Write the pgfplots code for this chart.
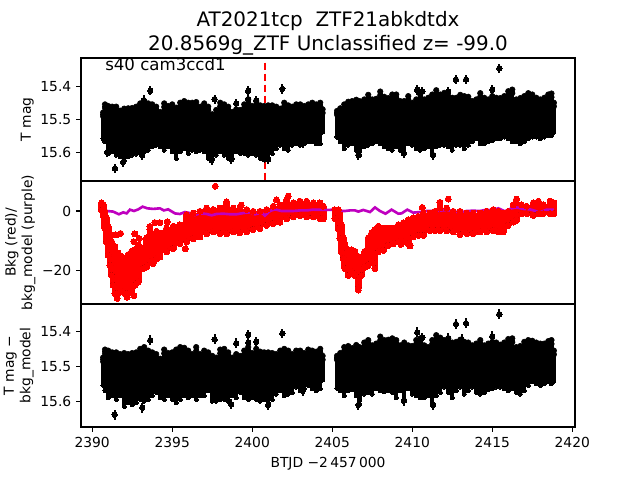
\documentclass[border=0pt]{standalone}
\usepackage{pgfplots}
\usepackage{pgfplotstable}
\pgfplotsset{compat=1.18}
\usepackage{fontspec}
\setmainfont{DejaVu Sans}
\definecolor{mpur}{HTML}{BF00BF}

\pgfplotstableread{
d t b
2390.68 15.480 15.565
2390.80 15.455 15.575
2391.00 15.460 15.610
2391.25 15.462 15.605
2391.50 15.462 15.615
2391.75 15.474 15.620
2392.00 15.468 15.631
2392.25 15.467 15.620
2392.50 15.466 15.615
2392.75 15.462 15.612
2393.00 15.452 15.610
2393.25 15.445 15.605
2393.50 15.452 15.600
2393.75 15.455 15.590
2394.00 15.462 15.585
2394.25 15.478 15.590
2394.50 15.452 15.600
2394.75 15.460 15.590
2395.00 15.455 15.605
2395.25 15.465 15.625
2395.50 15.450 15.605
2395.75 15.445 15.595
2396.00 15.450 15.610
2396.25 15.450 15.600
2396.50 15.448 15.605
2396.75 15.462 15.600
2397.00 15.452 15.605
2397.25 15.462 15.625
2397.50 15.485 15.625
2397.75 15.472 15.615
2398.00 15.450 15.605
2398.25 15.455 15.615
2398.50 15.462 15.625
2398.75 15.478 15.625
2399.00 15.470 15.605
2399.25 15.472 15.610
2399.50 15.455 15.610
2399.75 15.440 15.615
2400.00 15.460 15.610
2400.25 15.445 15.615
2400.50 15.458 15.625
2400.75 15.460 15.630
2401.00 15.458 15.630
2401.25 15.458 15.610
2401.50 15.462 15.595
2401.75 15.468 15.585
2402.00 15.450 15.595
2402.25 15.458 15.600
2402.50 15.462 15.585
2402.75 15.455 15.580
2403.00 15.455 15.585
2403.25 15.460 15.580
2403.50 15.455 15.575
2403.75 15.450 15.575
2404.00 15.455 15.580
2404.25 15.450 15.580
2404.40 15.470 15.545
2405.30 15.475 15.560
2405.50 15.467 15.575
2405.75 15.455 15.595
2406.00 15.447 15.585
2406.25 15.445 15.580
2406.50 15.441 15.600
2406.70 15.445 15.614
2407.00 15.440 15.590
2407.25 15.426 15.585
2407.50 15.440 15.580
2407.75 15.438 15.575
2408.00 15.416 15.580
2408.25 15.432 15.590
2408.50 15.436 15.595
2408.75 15.425 15.600
2409.00 15.425 15.590
2409.25 15.445 15.600
2409.50 15.445 15.612
2409.75 15.430 15.580
2410.00 15.450 15.585
2410.25 15.440 15.595
2410.50 15.425 15.600
2410.75 15.440 15.595
2411.00 15.435 15.590
2411.25 15.425 15.610
2411.50 15.412 15.590
2411.75 15.425 15.585
2412.00 15.420 15.585
2412.25 15.430 15.590
2412.50 15.435 15.600
2412.75 15.435 15.585
2413.00 15.426 15.585
2413.25 15.430 15.595
2413.50 15.432 15.585
2413.75 15.445 15.575
2414.00 15.440 15.565
2414.25 15.421 15.580
2414.50 15.435 15.580
2414.75 15.440 15.575
2415.00 15.430 15.570
2415.25 15.435 15.565
2415.50 15.436 15.565
2415.75 15.430 15.560
2416.00 15.415 15.565
2416.25 15.410 15.575
2416.50 15.440 15.575
2416.75 15.436 15.580
2417.00 15.430 15.575
2417.25 15.421 15.565
2417.50 15.425 15.560
2417.75 15.435 15.560
2418.00 15.440 15.565
2418.25 15.435 15.560
2418.50 15.425 15.555
2418.70 15.422 15.555
2418.85 15.450 15.545
}\bandA

\pgfplotstableread{
d y
2393.63 15.414
2391.42 15.650
2393.23 15.442
2397.65 15.439
2399.00 15.452
2399.75 15.414
2399.75 15.439
2400.25 15.444
2401.88 15.408
2398.69 15.622
2401.00 15.622
2403.15 15.574
2397.46 15.625
2393.13 15.610
2391.94 15.630
2390.94 15.600
2415.44 15.345
2412.73 15.380
2413.36 15.380
2415.00 15.411
2410.31 15.411
2410.63 15.416
2412.25 15.416
2411.31 15.609
2406.63 15.609
2409.48 15.604
}\outA

\pgfplotstableread{
d t b
2390.68 15.475 15.560
2390.80 15.452 15.575
2391.00 15.455 15.595
2391.25 15.460 15.590
2391.50 15.460 15.600
2391.75 15.465 15.590
2392.00 15.462 15.620
2392.25 15.465 15.610
2392.50 15.462 15.615
2392.75 15.460 15.610
2393.00 15.450 15.600
2393.25 15.445 15.605
2393.50 15.455 15.600
2393.75 15.460 15.590
2394.00 15.465 15.580
2394.25 15.478 15.595
2394.50 15.452 15.600
2394.75 15.462 15.590
2395.00 15.460 15.600
2395.25 15.452 15.610
2395.50 15.445 15.600
2395.75 15.447 15.590
2396.00 15.455 15.595
2396.25 15.465 15.590
2396.50 15.445 15.600
2396.75 15.465 15.590
2397.00 15.455 15.590
2397.25 15.460 15.575
2397.50 15.470 15.605
2397.75 15.475 15.605
2398.00 15.452 15.600
2398.25 15.450 15.600
2398.50 15.460 15.605
2398.75 15.475 15.590
2399.00 15.465 15.595
2399.25 15.470 15.580
2399.50 15.455 15.595
2399.75 15.445 15.600
2400.00 15.462 15.595
2400.25 15.450 15.600
2400.50 15.458 15.605
2400.75 15.460 15.600
2401.00 15.460 15.610
2401.25 15.462 15.600
2401.50 15.465 15.585
2401.75 15.455 15.575
2402.00 15.450 15.590
2402.25 15.455 15.585
2402.50 15.465 15.580
2402.75 15.455 15.565
2403.00 15.455 15.575
2403.25 15.462 15.570
2403.50 15.452 15.560
2403.75 15.455 15.570
2404.00 15.458 15.575
2404.25 15.450 15.570
2404.40 15.470 15.545
2405.30 15.470 15.568
2405.50 15.462 15.575
2405.75 15.445 15.590
2406.00 15.442 15.575
2406.25 15.448 15.572
2406.50 15.439 15.590
2406.70 15.445 15.614
2407.00 15.432 15.585
2407.25 15.425 15.580
2407.50 15.440 15.585
2407.75 15.435 15.570
2408.00 15.415 15.575
2408.25 15.425 15.578
2408.50 15.424 15.575
2408.75 15.420 15.580
2409.00 15.425 15.595
2409.25 15.440 15.575
2409.50 15.432 15.600
2409.75 15.440 15.570
2410.00 15.442 15.585
2410.25 15.425 15.590
2410.50 15.420 15.595
2410.75 15.440 15.595
2411.00 15.445 15.590
2411.25 15.425 15.612
2411.50 15.411 15.590
2411.75 15.418 15.580
2412.00 15.425 15.565
2412.25 15.420 15.580
2412.50 15.432 15.595
2412.75 15.430 15.575
2413.00 15.424 15.565
2413.25 15.430 15.585
2413.50 15.432 15.575
2413.75 15.440 15.565
2414.00 15.435 15.580
2414.25 15.425 15.585
2414.50 15.440 15.580
2414.75 15.435 15.572
2415.00 15.430 15.570
2415.25 15.432 15.565
2415.50 15.438 15.565
2415.75 15.432 15.570
2416.00 15.422 15.575
2416.25 15.420 15.570
2416.50 15.445 15.580
2416.75 15.442 15.585
2417.00 15.430 15.575
2417.25 15.425 15.560
2417.50 15.427 15.550
2417.75 15.432 15.555
2418.00 15.435 15.560
2418.25 15.435 15.555
2418.50 15.428 15.550
2418.70 15.425 15.555
2418.85 15.455 15.548
}\bandC

\pgfplotstableread{
d y
2393.63 15.425
2391.40 15.638
2393.13 15.618
2397.65 15.423
2399.00 15.434
2399.75 15.410
2399.75 15.432
2400.25 15.430
2401.88 15.406
2398.69 15.608
2401.00 15.610
2403.15 15.570
2415.44 15.351
2412.73 15.379
2413.36 15.377
2415.00 15.414
2410.31 15.403
2410.63 15.418
2412.25 15.420
2413.09 15.423
2411.31 15.610
2406.63 15.610
2409.48 15.598
}\outC

\pgfplotstableread{
d t b
2390.59 2.7 0.2
2390.69 2.1 -1.5
2390.79 -0.1 -5.9
2390.90 -2.3 -10.4
2391.00 -5.2 -14.9
2391.11 -8.0 -18.2
2391.21 -10.2 -21.6
2391.31 -12.4 -24.9
2391.42 -11.9 -27.7
2391.63 -14.1 -27.7
2391.84 -15.2 -27.1
2392.04 -17.4 -27.7
2392.25 -14.6 -27.7
2392.46 -13.5 -27.1
2392.67 -13.0 -24.9
2392.88 -11.3 -23.8
2393.19 -12.4 -19.3
2393.40 -9.0 -18.8
2393.61 -6.2 -17.1
2393.81 -7.9 -17.6
2394.02 -6.8 -16.0
2394.23 -7.4 -15.4
2394.65 -5.7 -13.7
2395.06 -5.1 -12.6
2395.48 -4.6 -10.9
2395.90 -1.2 -10.4
2396.31 -0.7 -9.3
2396.73 -0.1 -8.7
2397.15 1.0 -7.6
2397.56 0.5 -7.0
2397.98 1.0 -7.6
2398.40 2.4 -7.6
2398.81 1.0 -7.0
2399.23 1.0 -7.3
2399.65 0.5 -7.0
2400.06 -0.1 -6.2
2400.48 -0.1 -5.9
2400.90 0.5 -4.8
2401.31 1.6 -4.2
2401.73 2.1 -3.7
2402.15 3.8 -2.6
2402.56 2.7 -2.0
2402.98 3.3 -1.5
2403.40 3.3 -2.0
2403.81 2.7 -2.0
2404.23 2.7 -2.6
2404.45 1.6 -2.6
2405.17 0.4 -2.6
2405.38 0.4 -5.9
2405.48 -1.2 -9.3
2405.58 -4.6 -13.7
2405.69 -9.0 -16.0
2405.79 -11.3 -19.3
2406.00 -13.0 -21.6
2406.21 -13.0 -20.4
2406.42 -13.5 -21.6
2406.63 -15.2 -25.8
2406.83 -15.7 -21.6
2407.04 -13.5 -18.8
2407.25 -9.0 -18.2
2407.46 -7.4 -17.1
2407.67 -6.2 -19.3
2407.88 -5.1 -13.7
2408.19 -5.7 -13.2
2408.50 -5.7 -11.5
2408.81 -5.7 -11.0
2409.13 -4.6 -10.4
2409.44 -4.0 -10.4
2409.75 -2.9 -11.0
2410.06 -2.3 -8.7
2410.38 -1.8 -8.2
2410.69 -0.7 -8.2
2411.11 -0.7 -6.6
2411.42 -0.1 -6.6
2411.73 1.0 -6.6
2412.15 1.0 -6.6
2412.56 -0.1 -7.0
2412.98 -0.1 -7.9
2413.40 -0.7 -7.6
2413.81 -0.7 -7.6
2414.23 -0.7 -7.0
2414.65 -0.1 -7.0
2415.06 0.5 -6.6
2415.38 -0.1 -7.0
2415.69 -0.7 -7.0
2416.00 -0.1 -4.8
2416.31 2.1 -3.7
2416.52 2.7 -3.1
2416.83 2.1 -0.9
2417.15 1.6 -0.9
2417.56 2.7 -1.5
2417.88 3.3 -0.9
2418.19 2.1 -0.9
2418.61 3.3 -0.9
2418.85 2.7 -0.9
}\bandR

\pgfplotstableread{
d y
2397.69 8.3
2394.69 -3.6
2394.23 -3.9
2393.92 -3.9
2393.61 -5.2
2395.81 -12.7
2392.61 -28.3
2391.56 -29.3
2392.19 -28.9
2391.48 -8.0
2391.77 -7.5
2392.67 -7.7
2392.94 -9.2
2392.61 -10.3
2399.31 2.0
2398.40 3.1
2401.52 3.7
2402.25 5.0
2412.25 4.0
2411.73 2.9
2410.63 1.2
2409.86 -11.7
2409.29 -11.2
2416.52 4.0
2406.63 -26.5
}\outR

\pgfplotstableread{
d y
2390.59 0
2390.90 0
2391.31 -0.2
2391.67 -1.1
2391.94 -0.45
2392.15 -0.8
2392.36 0.45
2392.61 0
2392.88 0.55
2393.15 1.45
2393.44 0.9
2393.81 0.7
2394.23 0.9
2394.48 0.2
2394.75 0.55
2395.17 -0.8
2395.48 -1.0
2395.79 -0.35
2396.11 -0.7
2396.42 -1.35
2396.73 -0.8
2397.15 -1.0
2397.46 -1.45
2397.77 -1.0
2398.19 -0.9
2398.61 -1.1
2399.02 -1.1
2399.44 -0.7
2399.86 -0.45
2400.17 -1.1
2400.59 -0.55
2400.79 -1.55
2401.11 0
2401.42 0.55
2401.83 0
2402.56 0
2402.98 0.2
2403.40 0.2
2403.81 0.45
2404.65 0.35
2405.17 0.45
2405.48 0
2405.79 0
2406.11 0.2
2406.42 0.2
2406.63 -0.2
2406.94 0.35
2407.36 -0.35
2407.67 1.2
2407.98 0
2408.33 -0.9
2408.71 0.45
2409.13 -0.9
2409.33 -0.8
2409.69 0.45
2410.06 -0.55
2410.48 -0.35
2410.90 0
2411.52 0
2412.15 0.35
2412.56 0
2412.98 -0.55
2413.40 0
2413.81 0.1
2414.23 0
2414.65 0.45
2414.96 0.2
2415.38 0.9
2415.79 -0.1
2416.21 0.9
2416.52 1.2
2416.94 0.7
2417.36 0.55
2417.98 -0.45
2418.40 0.45
2418.85 0.45
}\purp

\pgfplotsset{
  panel/.style={
    scale only axis, width=4.94in, height=1.23in, anchor=south west,
    xmin=2389.3, xmax=2420.17,
    xtick pos=bottom, ytick pos=left,
    tick align=outside, major tick length=0.0486in,
    every tick/.style={black, line width=0.8pt},
    axis line style={line width=0.8pt},
    axis on top,
    /pgf/number format/assume math mode=true,
    tick label style={font=\fontsize{10}{12}\selectfont},
    label style={font=\fontsize{10}{12}\selectfont},
    clip=true,
  },
  ylab/.style={ylabel style={at={(axis description cs:#1,0.5)},anchor=center,rotate=0,align=center}},
  band/.style n args={2}{only marks, mark=none, draw=none, forget plot,
    error bars/.cd, y dir=plus, y explicit, error mark=none,
    error bar style={color=#1, line width=#2}},
  blob/.style={only marks, mark=*, mark size=0.021in, color=black, forget plot,
    mark options={solid,fill=black,draw=black,line width=0pt}},
  outl/.style={only marks, mark=*, mark size=0.027in, color=black, forget plot, mark options={solid,fill=black,draw=black,line width=0pt},
    error bars/.cd, y dir=both, y fixed=0.014, error mark=none,
    error bar style={color=black, line width=0.02in}},
}

\begin{document}
\begin{tikzpicture}
\path[use as bounding box] (0,0) rectangle (6.4in,4.8in);

\node[align=center, font=\fontsize{14.4}{17.3}\selectfont, anchor=center] at (3.28in,4.465in)
  {AT2021tcp\ \ ZTF21abkdtdx\\20.8569g\_ZTF Unclassified z= -99.0};

% top panel
\begin{axis}[panel, at={(0.81in,2.99in)},
  y dir=reverse, ymin=15.314, ymax=15.688,
  xtick=\empty, ytick={15.4,15.5,15.6},
  yticklabels={15.4,15.5,15.6},
  ylabel={T mag}, ylab=-0.109]
\addplot[color=red, dashed, dash pattern=on 0.077in off 0.033in, line width=1.5pt, forget plot] coordinates {(2400.79,15.328) (2400.79,15.688)};
\addplot[band={black}{0.014in}] table[x=d, y=t, y error plus expr=\thisrow{b}-\thisrow{t}] {\bandA};
\addplot[band={black}{0.043in}] table[x=d, y expr=\thisrow{t}+0.011, y error plus expr=\thisrow{b}-\thisrow{t}-0.022] {\bandA};
\addplot[blob] table[x=d, y expr=\thisrow{t}+0.006] {\bandA};
\addplot[blob] table[x=d, y expr=\thisrow{b}-0.006] {\bandA};
\addplot[outl] table[x=d, y=y] {\outA};
\node[anchor=base west, inner sep=0pt, font=\fontsize{12}{14}\selectfont] at (rel axis cs:0.0486,0.895) {s40 cam3ccd1};
\end{axis}

% middle panel
\begin{axis}[panel, at={(0.81in,1.76in)},
  ymin=-31.15, ymax=10.05,
  xtick=\empty, ytick={-20,0},
  yticklabels={−20,0},
  ylabel={Bkg (red)/\\bkg\_model (purple)}, ylab=-0.123]
\addplot[band={red}{0.068in}] table[x=d, y=b, y error plus expr=\thisrow{t}-\thisrow{b}] {\bandR};
\addplot[only marks, mark=*, mark size=0.03in, color=red, mark options={draw=red,fill=red,line width=0pt}] table[x=d, y=t] {\bandR};
\addplot[only marks, mark=*, mark size=0.03in, color=red, mark options={draw=red,fill=red,line width=0pt}] table[x=d, y=b] {\bandR};
\addplot[only marks, mark=*, mark size=0.03in, color=red, mark options={draw=red,fill=red,line width=0pt}] table[x=d, y=y] {\outR};
\addplot[color=mpur, line width=1.9pt, mark=none] table[x=d, y=y] {\purp};
\end{axis}

% bottom panel
\begin{axis}[panel, at={(0.81in,0.53in)},
  y dir=reverse, ymin=15.322, ymax=15.673,
  xtick={2390,2395,2400,2405,2410,2415,2420},
  xticklabels={2390,2395,2400,2405,2410,2415,2420},
  ytick={15.4,15.5,15.6},
  yticklabels={15.4,15.5,15.6},
  xlabel={BTJD −2\,457\,000},
  xlabel style={at={(axis description cs:0.5,-0.295)},anchor=center},
  ylabel={T mag −\\bkg\_model}, ylab=-0.126]
\addplot[band={black}{0.014in}] table[x=d, y=t, y error plus expr=\thisrow{b}-\thisrow{t}] {\bandC};
\addplot[band={black}{0.043in}] table[x=d, y expr=\thisrow{t}+0.011, y error plus expr=\thisrow{b}-\thisrow{t}-0.022] {\bandC};
\addplot[blob] table[x=d, y expr=\thisrow{t}+0.006] {\bandC};
\addplot[blob] table[x=d, y expr=\thisrow{b}-0.006] {\bandC};
\addplot[outl] table[x=d, y=y] {\outC};
\end{axis}
\end{tikzpicture}
\end{document}
